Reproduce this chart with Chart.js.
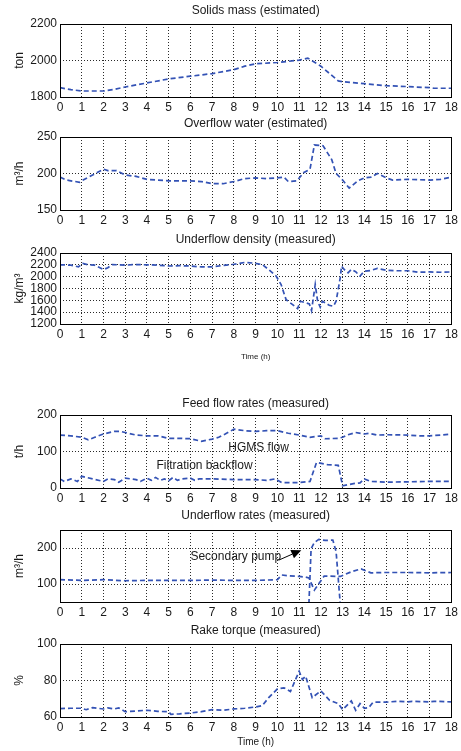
<!DOCTYPE html>
<html>
<head>
<meta charset="utf-8">
<title>Thickener data</title>
<script src="https://cdn.jsdelivr.net/npm/chart.js@4.4.0/dist/chart.umd.min.js"></script>
<style>
  html, body { margin: 0; padding: 0; background: #fff; }
  body { width: 461px; height: 751px; position: relative; overflow: hidden; }
  canvas { position: absolute; left: 0; display: block; }
</style>
</head>
<body>
<canvas id="c1" width="461" height="115" style="top:0px"></canvas>
<canvas id="c2" width="461" height="115" style="top:113px"></canvas>
<canvas id="c3" width="461" height="135" style="top:229px"></canvas>
<canvas id="c4" width="461" height="115" style="top:391px"></canvas>
<canvas id="c5" width="461" height="114" style="top:506px"></canvas>
<canvas id="c6" width="461" height="131" style="top:620px"></canvas>

<script>
// ---- Data ----

// Shared time axis ticks (hours)
const timeTicks = [0, 1, 2, 3, 4, 5, 6, 7, 8, 9, 10, 11, 12, 13, 14, 15, 16, 17, 18];

// Solids mass (estimated), ton
const solidsTime = [0, 0.5, 1, 2, 2.5, 3, 4, 5, 6, 7, 8, 8.5, 9, 10, 11, 11.4, 12, 12.8, 13, 14, 15, 16, 17, 17.2, 18];
const solidsMass = [1851, 1840, 1833, 1833, 1842, 1855, 1877, 1899, 1914, 1928, 1950, 1969, 1982, 1989, 2002, 2013, 1969, 1888, 1884, 1873, 1862, 1857, 1851, 1848, 1848];
const solidsTicks = [1800, 2000, 2200];

// Overflow water (estimated), m3/h
const overflowTime = [0, 0.3, 0.5, 0.9, 1, 1.5, 2, 2.2, 2.6, 3, 3.5, 4, 5, 6, 6.5, 7, 7.5, 8, 8.5, 9, 9.5, 10, 10.3, 10.5, 10.9, 11.2, 11.5, 11.7, 12.1, 12.5, 12.7, 13, 13.3, 13.7, 14, 14.3, 14.6, 15, 15.3, 16, 17, 17.5, 18];
const overflowWater = [195, 191, 190, 188, 190, 198, 206, 204, 204, 198, 196, 192, 190, 190, 189, 186, 186, 189, 193, 194, 193, 194, 195, 189, 190, 201, 206, 239, 238, 219, 200, 191, 180, 190, 194, 195, 200, 194, 191, 192, 191, 192, 195];
const overflowTicks = [150, 200, 250];

// Underflow density (measured), kg/m3
const densityTime = [0, 0.5, 0.85, 1.05, 1.3, 1.6, 2, 2.2, 2.4, 3, 3.5, 4, 4.5, 5, 5.5, 6, 6.5, 7, 7.5, 8, 8.5, 8.9, 9.3, 9.6, 9.94, 10.17, 10.4, 10.7, 10.93, 11.05, 11.47, 11.57, 11.74, 11.85, 11.97, 12.07, 12.38, 12.58, 12.7, 12.89, 12.95, 13.07, 13.25, 13.4, 13.6, 13.8, 14, 14.3, 14.6, 15, 15.5, 16, 16.5, 17, 17.5, 18];
const densityValues = [2200, 2195, 2165, 2225, 2200, 2195, 2120, 2150, 2205, 2195, 2205, 2200, 2195, 2180, 2185, 2180, 2165, 2165, 2190, 2210, 2240, 2230, 2205, 2120, 2010, 1867, 1612, 1527, 1460, 1585, 1539, 1426, 1867, 1585, 1483, 1585, 1517, 1500, 1585, 1980, 2179, 2122, 2065, 2122, 2083, 2010, 2094, 2105, 2140, 2110, 2100, 2100, 2075, 2080, 2075, 2080];
const densityTicks = [1200, 1400, 1600, 1800, 2000, 2200, 2400];

// Feed flow rates (measured), t/h
const hgmsTime = [0, 0.5, 1, 1.3, 1.6, 2, 2.5, 2.8, 3, 3.5, 4, 4.5, 5, 5.5, 6, 6.5, 7, 7.3, 7.6, 8, 8.5, 9, 9.5, 10, 10.5, 11, 11.5, 12, 12.2, 12.8, 13, 13.2, 13.6, 14, 14.2, 14.6, 15, 16, 16.5, 17, 17.5, 18];
const hgmsFlow = [145, 143, 139, 132, 139, 148, 155, 155, 152, 145, 143, 143, 136, 136, 135, 128, 134, 139, 148, 161, 157, 155, 157, 157, 150, 145, 139, 143, 135, 136, 139, 145, 152, 148, 150, 145, 146, 145, 143, 143, 145, 148];
const backflowTime = [0, 0.2, 0.5, 0.8, 1, 1.5, 2, 2.2, 2.5, 2.7, 3, 3.5, 3.7, 4, 4.2, 4.4, 4.6, 4.8, 5, 5.2, 5.4, 5.6, 6, 6.2, 6.4, 7, 8, 9, 9.5, 9.9, 10.2, 11, 11.5, 11.8, 12.3, 12.8, 13, 13.5, 13.8, 14, 14.3, 15, 16, 17, 18];
const backflowFlow = [25, 18, 25, 18, 32, 25, 18, 25, 23, 16, 27, 23, 18, 27, 21, 29, 21, 25, 20, 29, 21, 25, 27, 21, 25, 25, 23, 23, 21, 25, 15, 15, 18, 70, 64, 62, 6, 12, 14, 25, 18, 16, 17, 18, 18];
const feedTicks = [0, 100, 200];

// Underflow rates (measured), m3/h
const underflowTime = [0, 1, 2, 3, 4, 5, 6, 7, 8, 9, 10, 10.2, 10.5, 11, 11.3, 11.45, 11.7, 12.15, 12.9, 13.4, 13.85, 14.3, 15, 16, 17, 18];
const underflowRate = [112, 110, 112, 109, 110, 110, 110, 111, 110, 110, 112, 125, 123, 121, 119, 117, 83, 122, 121, 134, 142, 131, 132, 132, 131, 132];
const pumpTime = [11.42, 11.55, 11.7, 11.9, 12.2, 12.55, 12.7, 12.95];
const pumpRate = [0, 198, 215, 224, 221, 222, 190, 0];
const underflowTicks = [100, 200];

// Rake torque (measured), %
const torqueTime = [0, 0.5, 1, 1.2, 1.5, 2, 2.2, 2.5, 2.7, 3, 3.5, 4, 4.5, 5, 5.1, 5.5, 6, 6.5, 7, 7.5, 8, 8.5, 9, 9.3, 9.6, 10, 10.3, 10.6, 11, 11.15, 11.3, 11.6, 12, 12.4, 12.8, 13, 13.4, 13.6, 13.8, 14, 14.2, 14.4, 15, 15.5, 16, 16.2, 17, 17.2, 18];
const torqueValues = [64.6, 64.8, 64.8, 64, 65.1, 64.4, 65, 64.4, 65, 62.9, 63.3, 63.7, 63.1, 62.9, 61.5, 61.7, 62.2, 62.9, 64, 63.7, 64.4, 64.8, 65.5, 66.2, 70.6, 75.4, 76, 74, 85.1, 80.6, 82.4, 70.6, 74.3, 69.2, 67.3, 64, 68.8, 63.7, 67.3, 64.8, 65.1, 68.1, 68.1, 68.6, 68.3, 68.6, 68.3, 68.6, 68.3];
const torqueTicks = [60, 80, 100];

// ---- Styling ----
const FONT = '"Liberation Sans", Arial, Helvetica, sans-serif';
const TEXT = '#1a1a1a';
const LINE = '#3352b5';

// Pair up time and value arrays as {x, y} points
function series(times, values) {
  return times.map((t, i) => ({ x: t, y: values[i] }));
}

function lineDataset(times, values) {
  return {
    data: series(times, values),
    borderColor: LINE,
    borderWidth: 1.7,
    borderDash: [5, 3],
    pointRadius: 0,
    fill: false,
    tension: 0,
  };
}

// Box around the axes, plus text notes and arrows in data coordinates
const frameAndNotes = {
  id: 'frameAndNotes',
  afterDraw(chart, args, opts) {
    const { ctx, chartArea: a, scales } = chart;
    ctx.save();
    ctx.strokeStyle = '#000';
    ctx.lineWidth = 1;
    ctx.setLineDash([]);
    ctx.strokeRect(Math.round(a.left) + 0.5, Math.round(a.top) + 0.5, Math.round(a.width), Math.round(a.height));

    ctx.font = '12px ' + FONT;
    ctx.fillStyle = TEXT;
    ctx.textBaseline = 'middle';
    ctx.textAlign = 'left';
    (opts.notes || []).forEach(n => {
      ctx.fillText(n.text, scales.x.getPixelForValue(n.x), scales.y.getPixelForValue(n.y));
    });

    (opts.arrows || []).forEach(ar => {
      const x1 = scales.x.getPixelForValue(ar.from[0]);
      const y1 = scales.y.getPixelForValue(ar.from[1]);
      const x2 = scales.x.getPixelForValue(ar.to[0]);
      const y2 = scales.y.getPixelForValue(ar.to[1]);
      const ang = Math.atan2(y2 - y1, x2 - x1);
      const len = 10, half = 4.5;
      const bx = x2 - len * Math.cos(ang), by = y2 - len * Math.sin(ang);
      ctx.beginPath();
      ctx.moveTo(x1, y1);
      ctx.lineTo(bx, by);
      ctx.stroke();
      ctx.beginPath();
      ctx.moveTo(x2, y2);
      ctx.lineTo(bx + half * Math.sin(ang), by - half * Math.cos(ang));
      ctx.lineTo(bx - half * Math.sin(ang), by + half * Math.cos(ang));
      ctx.closePath();
      ctx.fillStyle = '#000';
      ctx.fill();
    });
    ctx.restore();
  },
};

// Build one MATLAB-style subplot
function makePanel(id, p) {
  const font = { family: FONT, size: 12, weight: 'normal' };
  const gridStyle = { color: '#2a2a2a', lineWidth: 1, drawTicks: false };
  const dotted = { display: false, dash: [1, 2] };
  const plain = v => String(v); // no thousands separators

  return new Chart(document.getElementById(id), {
    type: 'line',
    data: { datasets: p.datasets },
    options: {
      responsive: false,
      animation: false,
      events: [],
      layout: { padding: { left: 0, right: 8, top: 0, bottom: 0 } },
      plugins: {
        legend: { display: false },
        tooltip: { enabled: false },
        title: {
          display: true,
          text: p.title,
          fullSize: false,
          color: TEXT,
          font: font,
          padding: { top: p.titleTop, bottom: 9.6 - p.titleTop },
        },
        frameAndNotes: { notes: p.notes || [], arrows: p.arrows || [] },
      },
      scales: {
        x: {
          type: 'linear',
          min: 0,
          max: 18,
          afterBuildTicks: s => { s.ticks = timeTicks.map(v => ({ value: v })); },
          afterFit: s => { s.height = p.bottom; },
          ticks: { autoSkip: false, maxRotation: 0, padding: 3, color: TEXT, font: font, callback: plain },
          grid: gridStyle,
          border: dotted,
          title: {
            display: !!p.xlabel,
            text: p.xlabel || '',
            color: TEXT,
            font: { family: FONT, size: p.xlabelSize || 12 },
            padding: { top: 0, bottom: p.xlabelPad || 0 },
          },
        },
        y: {
          type: 'linear',
          min: p.yMin,
          max: p.yMax,
          afterBuildTicks: s => { s.ticks = p.yTicks.map(v => ({ value: v })); },
          afterFit: s => { s.width = 60; },
          ticks: { autoSkip: false, padding: 3, color: TEXT, font: font, callback: plain },
          grid: gridStyle,
          border: dotted,
          title: {
            display: true,
            text: p.ylabel,
            color: TEXT,
            font: font,
            padding: { top: 12.8, bottom: 0 },
          },
        },
      },
    },
    plugins: [frameAndNotes],
  });
}

makePanel('c1', {
  title: 'Solids mass (estimated)', titleTop: 3,
  ylabel: 'ton', yMin: 1800, yMax: 2200, yTicks: solidsTicks, bottom: 18,
  datasets: [lineDataset(solidsTime, solidsMass)],
});

makePanel('c2', {
  title: 'Overflow water (estimated)', titleTop: 3,
  ylabel: 'm³/h', yMin: 150, yMax: 250, yTicks: overflowTicks, bottom: 18,
  datasets: [lineDataset(overflowTime, overflowWater)],
});

makePanel('c3', {
  title: 'Underflow density (measured)', titleTop: 3,
  ylabel: 'kg/m³', yMin: 1200, yMax: 2400, yTicks: densityTicks, bottom: 40,
  xlabel: 'Time (h)', xlabelSize: 8, xlabelPad: 2,
  datasets: [lineDataset(densityTime, densityValues)],
});

makePanel('c4', {
  title: 'Feed flow rates (measured)', titleTop: 5,
  ylabel: 't/h', yMin: 0, yMax: 200, yTicks: feedTicks, bottom: 18,
  datasets: [lineDataset(hgmsTime, hgmsFlow), lineDataset(backflowTime, backflowFlow)],
  notes: [
    { text: 'HGMS flow', x: 7.74, y: 110 },
    { text: 'Filtration backflow', x: 4.44, y: 60 },
  ],
});

makePanel('c5', {
  title: 'Underflow rates (measured)', titleTop: 2,
  ylabel: 'm³/h', yMin: 50, yMax: 250, yTicks: underflowTicks, bottom: 18,
  datasets: [lineDataset(underflowTime, underflowRate), lineDataset(pumpTime, pumpRate)],
  notes: [{ text: 'Secondary pump', x: 6.0, y: 175 }],
  arrows: [{ from: [10.05, 166], to: [11.1, 194] }],
});

makePanel('c6', {
  title: 'Rake torque (measured)', titleTop: 3,
  ylabel: '%', yMin: 60, yMax: 100, yTicks: torqueTicks, bottom: 34,
  xlabel: 'Time (h)', xlabelSize: 10, xlabelPad: 3,
  datasets: [lineDataset(torqueTime, torqueValues)],
});
</script>
</body>
</html>
